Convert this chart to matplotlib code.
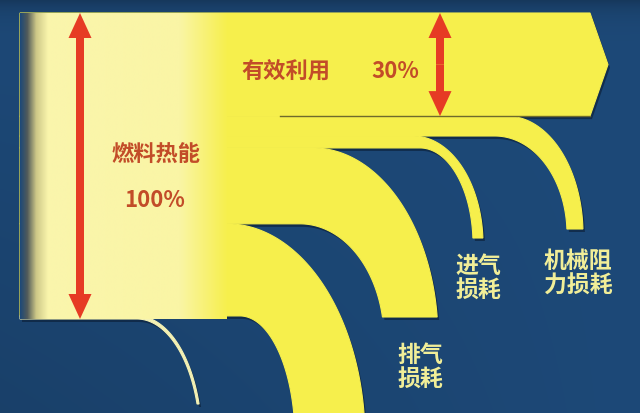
import numpy as np
import matplotlib.pyplot as plt
from matplotlib.patches import Polygon

plt.rcParams['font.family'] = ['Noto Sans CJK SC', 'DejaVu Sans']

# band widths, % of the fuel heat (top to bottom)
flow_share = [33.7, 6.5, 3.9, 24.8, 30.1, 1.0]
input_label = '燃料热能'
input_pct = '100%'
useful_label = '有效利用'
useful_pct = '30%'
loss_labels = ['机械阻\n力损耗', '进气\n损耗', '排气\n损耗']

# layout (pixels, y down)
X0, TOP, BOT = 20, 14, 320
# per loss band: outer bend x, outer rx, inner bend x, inner rx, centre y, end y
bends = [
    (507, 76, 495, 72, 235, 230),
    (413, 70, 420, 53, 245, 239),
    (313, 125, 300, 84, 340, 318),
    (227, 138, 240, 55, 440, 430),
    (137, 65, 137, 63, 442, 405),
]
label_pos = [(578, 274), (478, 279), (420, 368)]

YEL = '#f6ef4c'
PALE = '#f4f1b4'
RED = '#e63b24'
TXT = '#c24c28'
LAB = '#f1ee98'

edges = TOP + np.cumsum([0] + flow_share) / sum(flow_share) * (BOT - TOP)


def arc(bx, rx, y0, cy, yend, n=80):
    ry = cy - y0
    t_end = np.arccos(np.clip((cy - min(yend, cy)) / ry, -1, 1))
    t = np.linspace(0, t_end, n)
    pts = list(zip(bx + rx * np.sin(t), cy - ry * np.cos(t)))
    if yend > cy:
        pts.append((bx + rx, yend))
    return pts


def band(y_top, y_bot, ob, orx, ib, irx, cy, yend):
    outer = [(X0, y_top)] + arc(ob, orx, y_top, cy, yend)
    inner = [(X0, y_bot)] + arc(ib, irx, y_bot, cy, yend)
    return outer + inner[::-1]


fig = plt.figure(figsize=(6.4, 4.14), dpi=100)
ax = fig.add_axes([0, 0, 1, 1])
ax.set_xlim(0, 640)
ax.set_ylim(414, 0)
ax.axis('off')

# background
yy, xx = np.mgrid[0:414, 0:640]
base = np.array([29, 73, 120]) / 255
shade = 1 - 0.25 * np.exp(-yy / 12) - 0.12 * (yy / 414) * (1 - xx / 640)
bg = np.clip(base[None, None, :] * shade[..., None], 0, 1)
ax.imshow(bg, extent=(0, 640, 414, 0), zorder=0, aspect='auto')

# useful energy band with arrow tip
mid = (edges[0] + edges[1]) / 2
useful = [(X0, edges[0]), (590, edges[0]), (608, mid), (590, edges[1]), (X0, edges[1])]
shapes = [(useful, YEL)]
for i, (ob, orx, ib, irx, cy, yend) in enumerate(bends):
    pts = band(edges[i + 1], edges[i + 2], ob, orx, ib, irx, cy, yend)
    shapes.append((pts, PALE if i == len(bends) - 1 else YEL))

# drop shadows first, then the yellow bands on top
for pts, col in shapes:
    ax.add_patch(Polygon([(x + 2, y + 3) for x, y in pts], color='#0a1c33', alpha=0.6, lw=0, zorder=1))
for pts, col in shapes:
    ax.add_patch(Polygon(pts, facecolor=col, edgecolor=col, lw=0.8, zorder=2))

ax.plot([280, 590], [edges[1], edges[1]], color='#6e6a2c', lw=1.0, zorder=3)

# pale fade on the input block
gx = np.linspace(X0, 227, 300)
stops_x = [20, 27, 36, 48, 180, 227]
stops_c = np.array([[29, 73, 120], [80, 90, 90], [205, 200, 135], [250, 245, 172],
                    [250, 245, 165], [246, 239, 78]]) / 255
grad = np.stack([np.interp(gx, stops_x, stops_c[:, k]) for k in range(3)], axis=-1)
ax.imshow(grad[None, :, :], extent=(X0, 227, BOT, TOP), zorder=3, aspect='auto',
          interpolation='bilinear')


# red double arrows
def double_arrow(x, y0, y1):
    m = (y0 + y1) / 2
    for y_end in (y0, y1):
        ax.arrow(x, m, 0, y_end - m, width=8, head_width=23, head_length=25,
                 length_includes_head=True, color=RED, lw=0, zorder=5)


double_arrow(80, TOP, BOT)
double_arrow(440, edges[0], edges[1])

# texts
kw = dict(ha='center', va='center', fontweight='bold', zorder=6)
ax.text(286, 72, useful_label, color=TXT, fontsize=16, **kw)
ax.text(395, 72, useful_pct, color=TXT, fontsize=16, **kw)
ax.text(156, 155, input_label, color=TXT, fontsize=16, **kw)
ax.text(155, 201, input_pct, color=TXT, fontsize=16, **kw)
for lab, (x, y) in zip(loss_labels, label_pos):
    ax.text(x, y, lab, color=LAB, fontsize=16.5, linespacing=1.1, **kw)

fig.savefig('out.png', dpi=100)
